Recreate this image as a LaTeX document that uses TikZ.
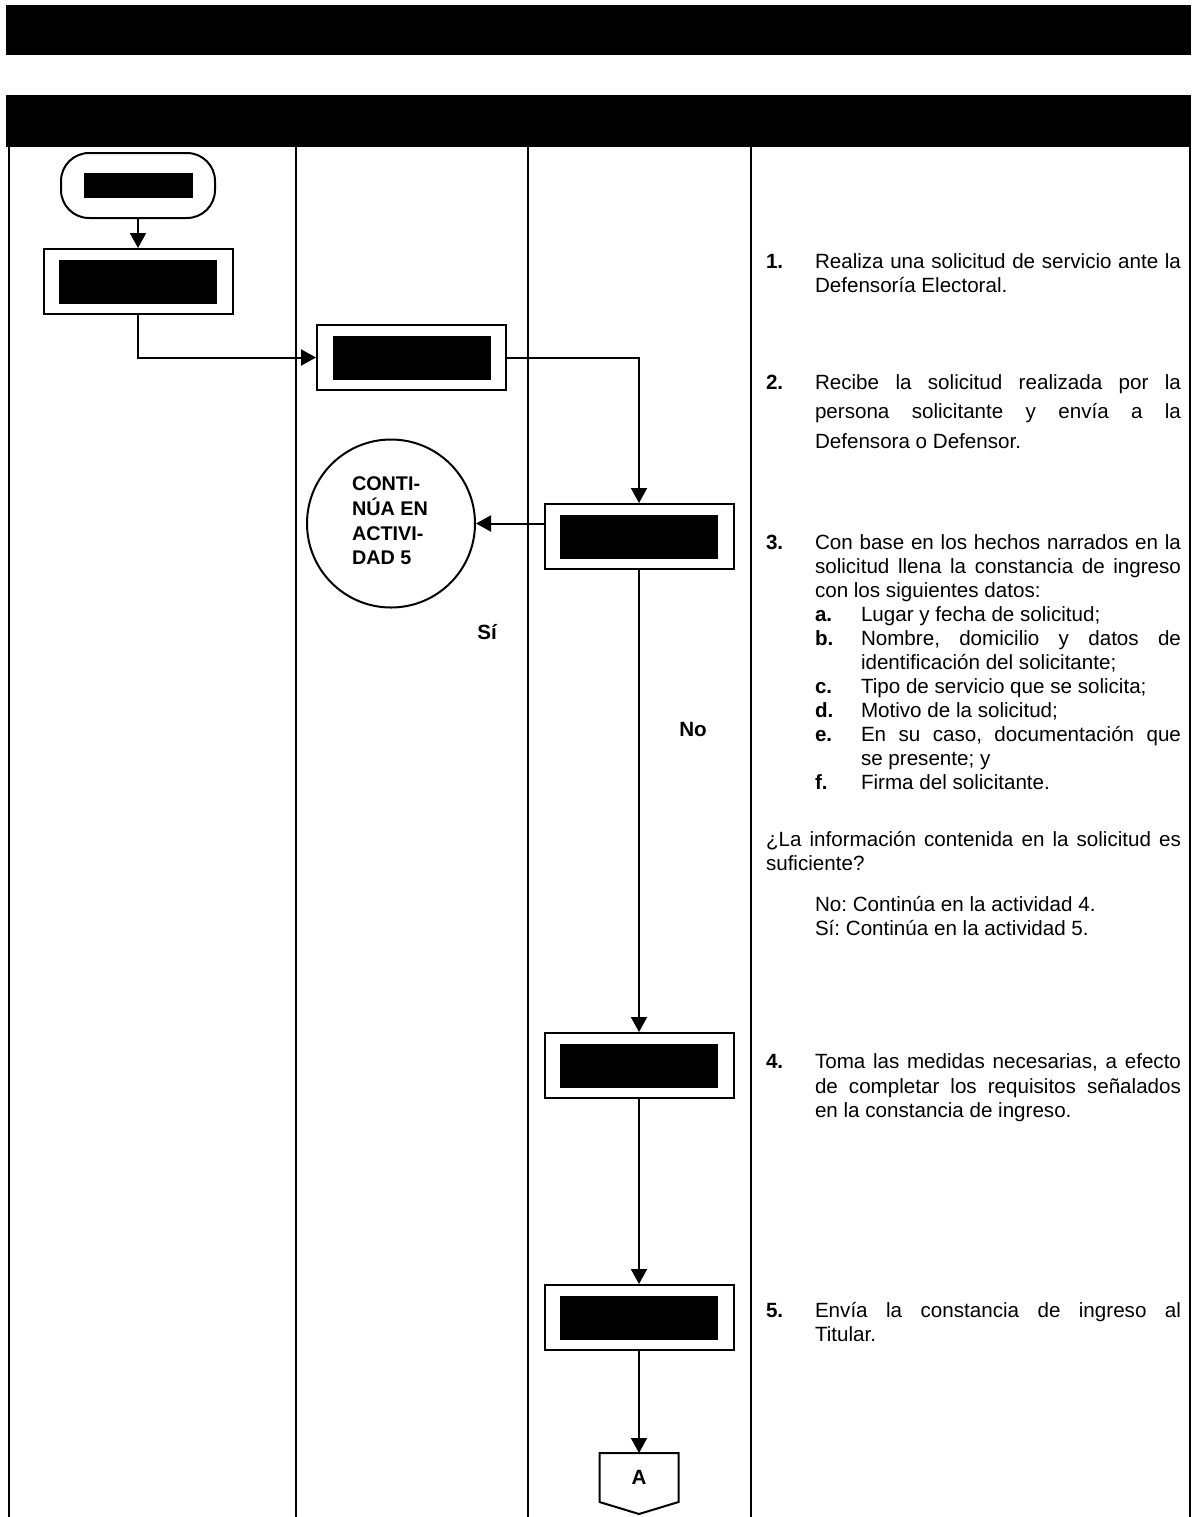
\documentclass[tikz,border=0pt]{standalone}
\usepackage{fontspec}
\setmainfont{Liberation Sans}
\usetikzlibrary{arrows.meta}
\frenchspacing
\newlength\twa \setlength\twa{183pt}
\newlength\twb \setlength\twb{160pt}
\newlength\twc \setlength\twc{207.5pt}
\newcommand\ja[1]{\makebox[\twa][s]{#1}}
\newcommand\jb[1]{\makebox[\twb][s]{#1}}
\newcommand\jc[1]{\makebox[\twc][s]{#1}}
\begin{document}
\begin{tikzpicture}[x=0.5pt,y=-0.5pt,line width=1pt,
  arr/.style={-{Triangle[length=7.5pt,width=8pt]}},
  txt/.style={anchor=base west,inner sep=0,font=\fontsize{10.3}{12}\selectfont},
  num/.style={txt,font=\fontsize{10.3}{12}\selectfont\bfseries},
  lbl/.style={inner sep=0,font=\fontsize{10.3}{12}\selectfont\bfseries},
  proc/.style={draw,fill=white,minimum width=94.5pt,minimum height=32.5pt,inner sep=0,
    path picture={\fill[black,sharp corners] ([shift={(7.75pt,5.25pt)}]path picture bounding box.south west)
      rectangle ([shift={(-7.75pt,-5.25pt)}]path picture bounding box.north east);}},
  term/.style={draw,fill=white,rounded corners=14pt,minimum width=77pt,minimum height=32.5pt,inner sep=0,
    path picture={\fill[black,sharp corners] ([shift={(11.25pt,10pt)}]path picture bounding box.south west)
      rectangle ([shift={(-11.25pt,-10pt)}]path picture bounding box.north east);}},
  conn/.style={draw,circle,minimum size=84pt,inner sep=0},
  offp/.style={minimum width=38.5pt,minimum height=23.5pt,inner sep=0,font=\fontsize{10.3}{12}\selectfont\bfseries}
]
\useasboundingbox (0,0) rectangle (1191,1517);
\fill[white] (0,0) rectangle (1191,1517);
% header bars
\fill[black] (6,5) rectangle (1191,55);
\fill[black] (6,95) rectangle (1191,147);
% lanes
\draw (9,147) -- (9,1517);
\draw (296,147) -- (296,1517);
\draw (528,147) -- (528,1517);
\draw (751,147) -- (751,1517);
\draw (1190,147) -- (1190,1517);

% flow nodes
\node[term] (start) at (138,185.5) {};
\node[proc] (b1) at (138,281.5) {};
\node[proc] (b2) at (411.5,357.5) {};
\node[proc] (b3) at (639,536.5) {};
\node[conn] (c1) at (391,523.5) {};
\node[proc] (b4) at (639,1065.5) {};
\node[proc] (b5) at (639,1317.5) {};
\node[offp] (offA) at (639,1477.5) {A};
\draw (offA.north west) -- (offA.north east) -- (offA.south east) -- ([yshift=-6pt]offA.south) -- (offA.south west) -- cycle;

\node[anchor=west,align=left,inner sep=0,font=\fontsize{9.9}{12.3}\selectfont\bfseries] (c1t) at (351,521) {CONTI-\\NÚA EN\\ACTIVI-\\DAD 5};

% connectors
\draw[arr] (start) -- (b1);
\draw[arr] (b1.south) |- (b2.west);
\draw[arr] (b2.east) -| (b3.north);
\draw[arr] (b3.west |- c1.east) -- (c1.east);
\draw[arr] (b3) -- (b4);
\draw[arr] (b4) -- (b5);
\draw[arr] (b5) -- (offA.north);

\node[lbl] (si) at (487,632) {Sí};
\node[lbl] (no) at (693,729) {No};

% right column text
\node[num] (n1) at (765,268) {1.};
\node[txt] (t1a) at (814,268) {\ja{Realiza una solicitud de servicio ante la}};
\node[txt] (t1b) at (814,292) {Defensoría Electoral.};

\node[num] (n2) at (765,389) {2.};
\node[txt] (t2a) at (814,389) {\ja{Recibe la solicitud realizada por la}};
\node[txt] (t2b) at (814,418) {\ja{persona solicitante y envía a la}};
\node[txt] (t2c) at (814,448) {Defensora o Defensor.};

\node[num] (n3) at (765,549) {3.};
\node[txt] (t3a) at (814,549) {\ja{Con base en los hechos narrados en la}};
\node[txt] (t3b) at (814,573) {\ja{solicitud llena la constancia de ingreso}};
\node[txt] (t3c) at (814,597) {con los siguientes datos:};
\node[num] (la) at (814,621) {a.};
\node[txt] (t3d) at (860,621) {Lugar y fecha de solicitud;};
\node[num] (lb) at (814,645) {b.};
\node[txt] (t3e) at (860,645) {\jb{Nombre, domicilio y datos de}};
\node[txt] (t3f) at (860,669) {identificación del solicitante;};
\node[num] (lc) at (814,693) {c.};
\node[txt] (t3g) at (860,693) {Tipo de servicio que se solicita;};
\node[num] (ld) at (814,717) {d.};
\node[txt] (t3h) at (860,717) {Motivo de la solicitud;};
\node[num] (le) at (814,741) {e.};
\node[txt] (t3i) at (860,741) {\jb{En su caso, documentación que}};
\node[txt] (t3j) at (860,765) {se presente; y};
\node[num] (lf) at (814,789) {f.};
\node[txt] (t3k) at (860,789) {Firma del solicitante.};

\node[txt] (qa) at (765,846) {\jc{¿La información contenida en la solicitud es}};
\node[txt] (qb) at (765,870) {suficiente?};
\node[txt] (qno) at (814,911) {No: Continúa en la actividad 4.};
\node[txt] (qsi) at (814,935) {Sí: Continúa en la actividad 5.};

\node[num] (n4) at (765,1068) {4.};
\node[txt] (t4a) at (814,1068) {\ja{Toma las medidas necesarias, a efecto}};
\node[txt] (t4b) at (814,1093) {\ja{de completar los requisitos señalados}};
\node[txt] (t4c) at (814,1117) {en la constancia de ingreso.};

\node[num] (n5) at (765,1317) {5.};
\node[txt] (t5a) at (814,1317) {\ja{Envía la constancia de ingreso al}};
\node[txt] (t5b) at (814,1341) {Titular.};
\end{tikzpicture}
\end{document}
